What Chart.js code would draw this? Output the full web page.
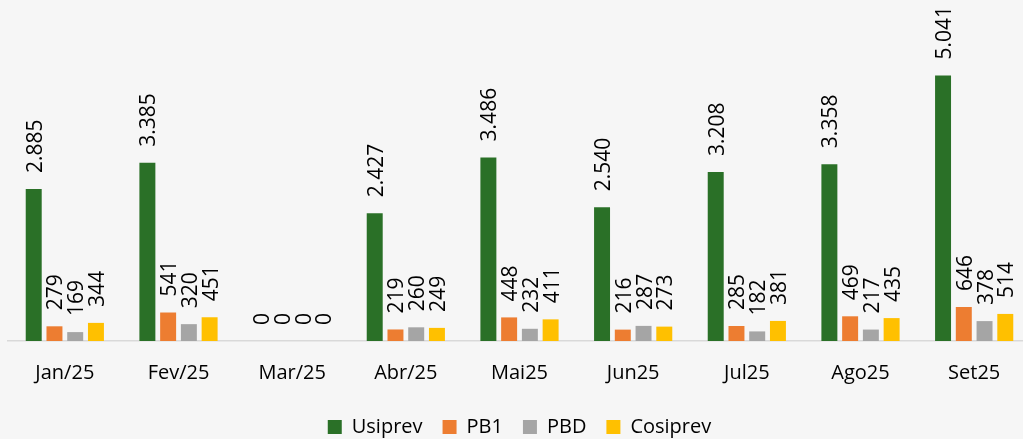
<!DOCTYPE html>
<html>
<head>
    <meta charset="UTF-8">
    <title>Contribuições por plano</title>
    <script src="https://cdn.jsdelivr.net/npm/chart.js"></script>
    <style>
        body { margin: 0; background: #f6f6f6; overflow: hidden; }
        #wrap { width: 1032px; height: 439px; }
    </style>
</head>
<body>
    <div id="wrap"><canvas id="grafico"></canvas></div>

    <script>
        const meses = ["Jan/25", "Fev/25", "Mar/25", "Abr/25", "Mai25", "Jun25", "Jul25", "Ago25", "Set25"];

        const planos = {
            "Usiprev":  { cor: "#2a7027", valores: [2885, 3385, 0, 2427, 3486, 2540, 3208, 3358, 5041] },
            "PB1":      { cor: "#ed7d31", valores: [279, 541, 0, 219, 448, 216, 285, 469, 646] },
            "PBD":      { cor: "#a5a5a5", valores: [169, 320, 0, 260, 232, 287, 182, 217, 378] },
            "Cosiprev": { cor: "#ffc000", valores: [344, 451, 0, 249, 411, 273, 381, 435, 514] }
        };

        function formatar(v) {
            return String(v).replace(/\B(?=(\d{3})+(?!\d))/g, ".");
        }

        // rótulos verticais acima das barras
        const rotulos = {
            id: "rotulos",
            afterDatasetsDraw(chart) {
                const ctx = chart.ctx;
                ctx.save();
                ctx.font = "21px 'Open Sans'";
                ctx.fillStyle = "#000";
                ctx.textAlign = "left";
                ctx.textBaseline = "middle";
                chart.data.datasets.forEach((ds, i) => {
                    chart.getDatasetMeta(i).data.forEach((bar, j) => {
                        ctx.save();
                        ctx.translate(bar.x + 2, bar.y - 16);
                        ctx.rotate(-Math.PI / 2);
                        ctx.fillText(formatar(ds.data[j]), 0, 0);
                        ctx.restore();
                    });
                });
                ctx.restore();
            }
        };

        const datasets = Object.keys(planos).map(nome => ({
            label: nome,
            data: planos[nome].valores,
            backgroundColor: planos[nome].cor,
            categoryPercentage: 0.73,
            barPercentage: 0.77
        }));

        new Chart(document.getElementById("grafico"), {
            type: "bar",
            data: { labels: meses, datasets: datasets },
            plugins: [rotulos],
            options: {
                responsive: true,
                maintainAspectRatio: false,
                animation: false,
                layout: { padding: { top: 25, left: 8, right: 1, bottom: -8 } },
                scales: {
                    y: { display: false, min: 0, max: 6000 },
                    x: {
                        grid: { display: false },
                        border: { display: true, color: "#d9d9d9", width: 1.5 },
                        ticks: { color: "#000", font: { family: "'Open Sans'", size: 20 }, padding: 12 }
                    }
                },
                plugins: {
                    tooltip: { enabled: false },
                    legend: {
                        position: "bottom",
                        labels: {
                            boxWidth: 14,
                            boxHeight: 14,
                            padding: 20,
                            color: "#000",
                            font: { family: "'Open Sans'", size: 20 }
                        }
                    }
                }
            }
        });
    </script>
</body>
</html>
